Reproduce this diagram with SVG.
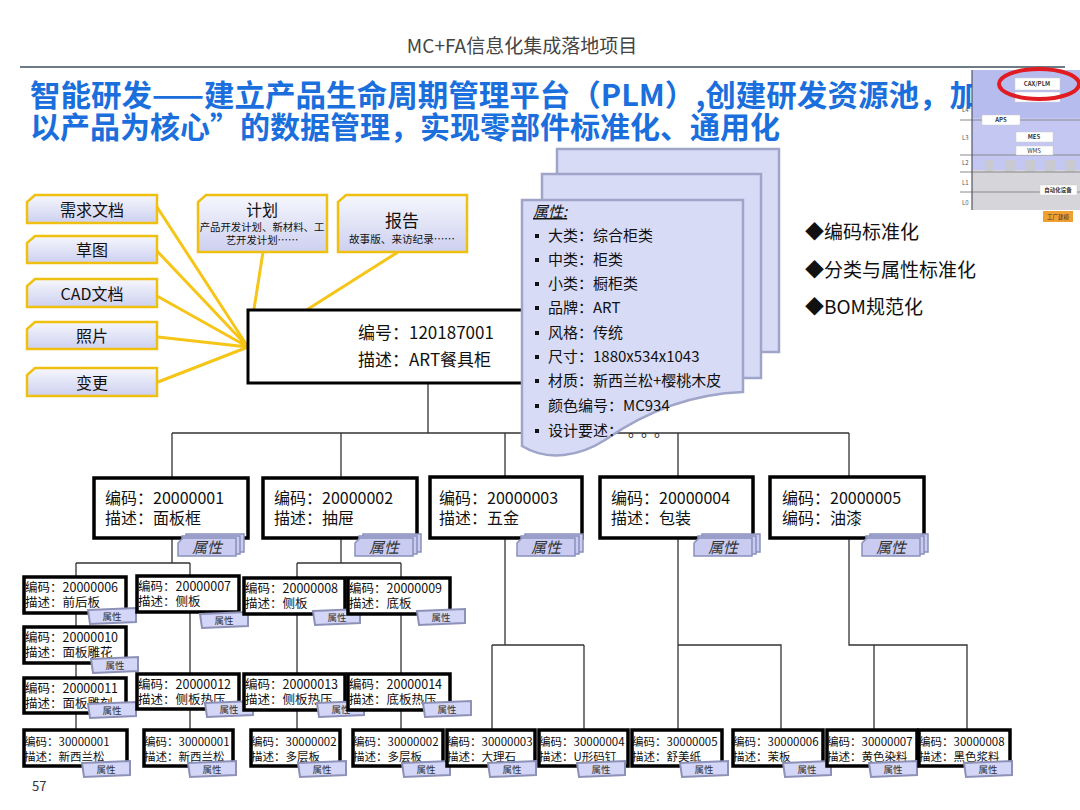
<svg xmlns="http://www.w3.org/2000/svg" width="1080" height="810" viewBox="0 0 1080 810">
<defs>
<linearGradient id="cg" x1="0" y1="0" x2="0" y2="1">
<stop offset="0" stop-color="#f6f7fd"/>
<stop offset="1" stop-color="#cdd0f0"/>
</linearGradient>
<style>
text{font-family:"Noto Sans CJK SC","Noto Sans",sans-serif;fill:#111}
.cl{fill:url(#cg);stroke:#f0c010;stroke-width:2.5}
.yl{stroke:#f5c518;stroke-width:3;fill:none}
.cn{stroke:#333;stroke-width:1.3;fill:none}
.bx{fill:#fff;stroke:#000;stroke-width:3.5}
.doc{fill:#d8dbf6;stroke:#9fa4c9;stroke-width:2.5}
.bg{fill:#c9ccf0;stroke:#8b90bd;stroke-width:1.5}
.sb{fill:#d3d6f6;stroke:#8d91b8;stroke-width:2}
.t2{font-size:16px}
.t3{font-size:12.5px}
.t4{font-size:11.5px}
.bt{font-size:15px;font-style:italic;fill:#333;text-anchor:middle}
.st{font-size:9.5px;fill:#333;text-anchor:middle}
.dt{font-size:15px}
.il{font-size:6px;fill:#555}
.ib{fill:#fff;stroke:#ccc;stroke-width:0.5}
.it{font-size:6px;font-weight:bold;text-anchor:middle;fill:#333}
</style>
</defs>
<rect width="1080" height="810" fill="#fff"/>

<!-- header -->
<text x="522" y="53" font-size="19" text-anchor="middle" style="fill:#444">MC+FA信息化集成落地项目</text>
<line x1="20" y1="67" x2="1065" y2="67" stroke="#6d7b84" stroke-width="2"/>
<text x="30" y="106" font-size="30" font-weight="bold" textLength="950" lengthAdjust="spacingAndGlyphs" style="fill:#1b6fdc">智能研发——建立产品生命周期管理平台（PLM）,创建研发资源池，加</text>
<text x="30" y="138" font-size="30" font-weight="bold" style="fill:#1b6fdc">以产品为核心”的数据管理，实现零部件标准化、通用化</text>

<!-- inset -->
<g id="inset">
<rect x="972" y="70" width="108" height="100" fill="#c3c7f2"/>
<rect x="972" y="70" width="108" height="48" fill="#b7bcef"/>
<rect x="972" y="170" width="108" height="40" fill="#d6d6da"/>
<rect x="985" y="160" width="8" height="12" fill="#c9c9d2"/>
<rect x="1005" y="160" width="10" height="12" fill="#c9c9d2"/>
<rect x="1025" y="160" width="10" height="12" fill="#c9c9d2"/>
<rect x="1045" y="160" width="10" height="12" fill="#c9c9d2"/>
<rect x="1065" y="160" width="10" height="12" fill="#c9c9d2"/>
<g stroke="#8a8a8a" stroke-width="1">
<line x1="960" y1="120" x2="1080" y2="120"/>
<line x1="960" y1="155" x2="1080" y2="155"/>
<line x1="960" y1="172" x2="1080" y2="172"/>
<line x1="960" y1="192" x2="1080" y2="192"/>
</g>
<line x1="972" y1="70" x2="972" y2="210" stroke="#556" stroke-width="1.2"/>
<text class="il" x="962" y="112">L4</text>
<text class="il" x="962" y="140">L3</text>
<text class="il" x="962" y="165">L2</text>
<text class="il" x="962" y="185">L1</text>
<text class="il" x="962" y="205">L0</text>
<rect class="ib" x="1015" y="92" width="45" height="10"/>
<rect class="ib" x="1015" y="78" width="45" height="12"/>
<text class="it" x="1037" y="86">CAX/PLM</text>
<rect class="ib" x="982" y="115" width="38" height="10"/>
<text class="it" x="1001" y="122">APS</text>
<rect class="ib" x="1016" y="132" width="37" height="10"/>
<text class="it" x="1034" y="139">MES</text>
<rect class="ib" x="1016" y="146" width="37" height="9"/>
<text class="it" x="1034" y="153" style="font-weight:normal">WMS</text>
<rect class="ib" x="1040" y="185" width="37" height="10"/>
<text class="it" x="1058" y="192" style="font-size:5.5px">自动化设备</text>
<rect x="1043" y="211" width="30" height="11" fill="#f0a030"/>
<text class="it" x="1058" y="219" style="font-size:5.5px;font-weight:normal">工厂建模</text>
<ellipse cx="1039" cy="84" rx="40" ry="15" fill="none" stroke="#e01b22" stroke-width="4"/>
</g>

<!-- connectors -->
<g id="connectors">
<path class="yl" d="M157 207 L248 347 M157 251 L248 347 M157 296 L248 347 M158 337 L248 347 M158 382 L248 347 M263 252 L248 347 M398 252 L248 347"/>
<path class="cn" d="M428 383 V433 M172 433 H849 M172 433 V478 M341 433 V478 M505 433 V477 M678 433 V477 M849 433 V477"/>
<path class="cn" d="M172 538 V563 M76 563 H190 M76 563 V730 M190 563 V730"/>
<path class="cn" d="M341 538 V563 M297 563 H401 M297 563 V730 M401 563 V730"/>
<path class="cn" d="M505 538 V645 M492 645 H584 M492 645 V730 M584 645 V730"/>
<path class="cn" d="M678 538 V730 M678 645 H781 V730"/>
<path class="cn" d="M849 538 V645 H967 V730 M874 645 V730"/>
</g>

<!-- callouts -->
<g id="c1"><path class="cl" d="M35 195 H157 V223 H27 V202 Z"/><text x="92" y="216" font-size="16" text-anchor="middle">需求文档</text></g>
<g id="c2"><path class="cl" d="M35 236 H157 V263 H27 V243 Z"/><text x="92" y="256" font-size="16" text-anchor="middle">草图</text></g>
<g id="c3"><path class="cl" d="M35 279 H157 V307 H27 V286 Z"/><text x="92" y="300" font-size="16" text-anchor="middle">CAD文档</text></g>
<g id="c4"><path class="cl" d="M35 322 H157 V349 H27 V329 Z"/><text x="92" y="342" font-size="16" text-anchor="middle">照片</text></g>
<g id="c5"><path class="cl" d="M35 368 H157 V396 H27 V375 Z"/><text x="92" y="389" font-size="16" text-anchor="middle">变更</text></g>
<g id="c6"><path class="cl" d="M206 195 H327 V252 H198 V202 Z"/>
<text x="262" y="216" font-size="16" text-anchor="middle">计划</text>
<text x="262" y="231" font-size="10.4" text-anchor="middle">产品开发计划、新材料、工</text>
<text x="262" y="244" font-size="10.4" text-anchor="middle">艺开发计划……</text></g>
<g id="c7"><path class="cl" d="M346 195 H467 V252 H338 V202 Z"/>
<text x="402" y="227" font-size="17" text-anchor="middle">报告</text>
<text x="402" y="243" font-size="10.6" text-anchor="middle">故事版、来访纪录……</text></g>

<!-- root -->
<g id="root">
<rect x="248" y="310" width="392" height="73" fill="#fff" stroke="#000" stroke-width="3"/>
<text x="358" y="339" font-size="17">编号：120187001</text>
<text x="358" y="366" font-size="17">描述：ART餐具柜</text>
</g>

<!-- property document -->
<g id="doc">
<rect class="doc" x="557" y="149" width="222" height="203"/>
<rect class="doc" x="542" y="174" width="219" height="204"/>
<path class="doc" d="M522 200 H743 V392 C690 394 645 412 605 440 C580 456 548 462 522 446 Z"/>
<text x="533" y="217" font-size="15" font-style="italic" text-decoration="underline">属性:</text>
<g fill="#111">
<rect x="535" y="234" width="4" height="4"/><rect x="535" y="258" width="4" height="4"/><rect x="535" y="282" width="4" height="4"/>
<rect x="535" y="306" width="4" height="4"/><rect x="535" y="331" width="4" height="4"/><rect x="535" y="355" width="4" height="4"/>
<rect x="535" y="379" width="4" height="4"/><rect x="535" y="404" width="4" height="4"/><rect x="535" y="429" width="4" height="4"/>
</g>
<text class="dt" x="548" y="241">大类：综合柜类</text>
<text class="dt" x="548" y="265">中类：柜类</text>
<text class="dt" x="548" y="289">小类：橱柜类</text>
<text class="dt" x="548" y="313">品牌：ART</text>
<text class="dt" x="548" y="338">风格：传统</text>
<text class="dt" x="548" y="362">尺寸：1880x534x1043</text>
<text class="dt" x="548" y="386">材质：新西兰松+樱桃木皮</text>
<text class="dt" x="548" y="411">颜色编号：MC934</text>
<text class="dt" x="548" y="436">设计要述：<tspan x="628">。</tspan><tspan x="641">。</tspan><tspan x="654">。</tspan></text>
</g>

<g id="bullets">
<text x="805" y="239" font-size="19">◆编码标准化</text>
<text x="805" y="277" font-size="19">◆分类与属性标准化</text>
<text x="805" y="314" font-size="19">◆BOM规范化</text>
</g>

<!-- level 2 -->
<g id="n20000001"><rect class="bx" x="94" y="478" width="154" height="60"/>
<text class="t2" x="105" y="504">编码：20000001</text><text class="t2" x="105" y="524">描述：面板框</text>
<g transform="translate(178,538)"><path class="bg" d="M8 -4 H66 V14 H8 Z"/><path class="bg" d="M4 -2 H62 V16 H4 Z"/><path class="bg" d="M0 5 L5 0 H58 V18 H0 Z"/><text class="bt" x="29" y="15">属性</text></g></g>
<g id="n20000002"><rect class="bx" x="263" y="478" width="154" height="60"/>
<text class="t2" x="274" y="504">编码：20000002</text><text class="t2" x="274" y="524">描述：抽屉</text>
<g transform="translate(355,538)"><path class="bg" d="M8 -4 H66 V14 H8 Z"/><path class="bg" d="M4 -2 H62 V16 H4 Z"/><path class="bg" d="M0 5 L5 0 H58 V18 H0 Z"/><text class="bt" x="29" y="15">属性</text></g></g>
<g id="n20000003"><rect class="bx" x="430" y="477" width="152" height="61"/>
<text class="t2" x="439" y="504">编码：20000003</text><text class="t2" x="439" y="524">描述：五金</text>
<g transform="translate(517,538)"><path class="bg" d="M8 -4 H66 V14 H8 Z"/><path class="bg" d="M4 -2 H62 V16 H4 Z"/><path class="bg" d="M0 5 L5 0 H58 V18 H0 Z"/><text class="bt" x="29" y="15">属性</text></g></g>
<g id="n20000004"><rect class="bx" x="600" y="477" width="153" height="61"/>
<text class="t2" x="611" y="504">编码：20000004</text><text class="t2" x="611" y="524">描述：包装</text>
<g transform="translate(694,538)"><path class="bg" d="M8 -4 H66 V14 H8 Z"/><path class="bg" d="M4 -2 H62 V16 H4 Z"/><path class="bg" d="M0 5 L5 0 H58 V18 H0 Z"/><text class="bt" x="29" y="15">属性</text></g></g>
<g id="n20000005"><rect class="bx" x="770" y="477" width="154" height="61"/>
<text class="t2" x="782" y="504">编码：20000005</text><text class="t2" x="782" y="524">编码：油漆</text>
<g transform="translate(862,538)"><path class="bg" d="M8 -4 H66 V14 H8 Z"/><path class="bg" d="M4 -2 H62 V16 H4 Z"/><path class="bg" d="M0 5 L5 0 H58 V18 H0 Z"/><text class="bt" x="29" y="15">属性</text></g></g>

<!-- level 3 -->
<g id="n20000006"><rect class="bx" x="24" y="577" width="102" height="36"/><text class="t3" x="25" y="592">编码：20000006</text><text class="t3" x="25" y="607">描述：前后板</text>
<path class="sb" d="M88 610 L136 608 V622 L90 624 Z"/><text class="st" x="112" y="620">属性</text></g>
<g id="n20000007"><rect class="bx" x="137" y="576" width="102" height="36"/><text class="t3" x="138" y="591">编码：20000007</text><text class="t3" x="138" y="606">描述：侧板</text>
<path class="sb" d="M200 614 L248 612 V626 L202 628 Z"/><text class="st" x="224" y="624">属性</text></g>
<g id="n20000008"><rect class="bx" x="244" y="578" width="101" height="36"/><text class="t3" x="245" y="593">编码：20000008</text><text class="t3" x="245" y="608">描述：侧板</text>
<path class="sb" d="M313 611 L360 609 V623 L315 625 Z"/><text class="st" x="337" y="621">属性</text></g>
<g id="n20000009"><rect class="bx" x="348" y="578" width="102" height="36"/><text class="t3" x="349" y="593">编码：20000009</text><text class="t3" x="349" y="608">描述：底板</text>
<path class="sb" d="M417 611 L465 609 V623 L419 625 Z"/><text class="st" x="441" y="621">属性</text></g>
<g id="n20000010"><rect class="bx" x="24" y="627" width="102" height="36"/><text class="t3" x="25" y="642">编码：20000010</text><text class="t3" x="25" y="657">描述：面板雕花</text>
<path class="sb" d="M91 659 L138 657 V671 L93 673 Z"/><text class="st" x="115" y="669">属性</text></g>
<g id="n20000011"><rect class="bx" x="24" y="678" width="102" height="35"/><text class="t3" x="25" y="693">编码：20000011</text><text class="t3" x="25" y="708">描述：面板雕刻</text>
<path class="sb" d="M88 704 L136 702 V716 L90 718 Z"/><text class="st" x="112" y="714">属性</text></g>
<g id="n20000012"><rect class="bx" x="137" y="674" width="102" height="35"/><text class="t3" x="138" y="689">编码：20000012</text><text class="t3" x="138" y="704">描述：侧板热压</text>
<path class="sb" d="M205 703 L253 701 V715 L207 717 Z"/><text class="st" x="229" y="713">属性</text></g>
<g id="n20000013"><rect class="bx" x="244" y="674" width="101" height="36"/><text class="t3" x="245" y="689">编码：20000013</text><text class="t3" x="245" y="704">描述：侧板热压</text>
<path class="sb" d="M317 703 L364 701 V715 L319 717 Z"/><text class="st" x="341" y="713">属性</text></g>
<g id="n20000014"><rect class="bx" x="348" y="674" width="102" height="36"/><text class="t3" x="349" y="689">编码：20000014</text><text class="t3" x="349" y="704">描述：底板热压</text>
<path class="sb" d="M423 703 L471 701 V715 L425 717 Z"/><text class="st" x="447" y="713">属性</text></g>

<!-- level 4 -->
<g id="m1"><rect class="bx" x="24" y="730" width="103" height="36"/><text class="t4" x="24" y="746">编码：30000001</text><text class="t4" x="24" y="761">描述：新西兰松</text>
<path class="sb" d="M82 763 L130 761 V775 L84 777 Z"/><text class="st" x="106" y="773">属性</text></g>
<g id="m2"><rect class="bx" x="144" y="730" width="89" height="36"/><text class="t4" x="144" y="746">编码：30000001</text><text class="t4" x="144" y="761">描述：新西兰松</text>
<path class="sb" d="M188 763 L236 761 V775 L190 777 Z"/><text class="st" x="212" y="773">属性</text></g>
<g id="m3"><rect class="bx" x="251" y="730" width="89" height="36"/><text class="t4" x="251" y="746">编码：30000002</text><text class="t4" x="251" y="761">描述：多层板</text>
<path class="sb" d="M298 763 L346 761 V775 L300 777 Z"/><text class="st" x="322" y="773">属性</text></g>
<g id="m4"><rect class="bx" x="353" y="730" width="90" height="36"/><text class="t4" x="353" y="746">编码：30000002</text><text class="t4" x="353" y="761">描述：多层板</text>
<path class="sb" d="M402 763 L450 761 V775 L404 777 Z"/><text class="st" x="426" y="773">属性</text></g>
<g id="m5"><rect class="bx" x="447" y="730" width="88" height="36"/><text class="t4" x="447" y="746">编码：30000003</text><text class="t4" x="447" y="761">描述：大理石</text>
<path class="sb" d="M488 763 L536 761 V775 L490 777 Z"/><text class="st" x="512" y="773">属性</text></g>
<g id="m6"><rect class="bx" x="539" y="730" width="89" height="36"/><text class="t4" x="539" y="746">编码：30000004</text><text class="t4" x="539" y="761">描述：U形码钉</text>
<path class="sb" d="M577 763 L625 761 V775 L579 777 Z"/><text class="st" x="601" y="773">属性</text></g>
<g id="m7"><rect class="bx" x="632" y="730" width="90" height="36"/><text class="t4" x="632" y="746">编码：30000005</text><text class="t4" x="632" y="761">描述：舒美纸</text>
<path class="sb" d="M680 763 L728 761 V775 L682 777 Z"/><text class="st" x="704" y="773">属性</text></g>
<g id="m8"><rect class="bx" x="733" y="730" width="90" height="36"/><text class="t4" x="733" y="746">编码：30000006</text><text class="t4" x="733" y="761">描述：茉板</text>
<path class="sb" d="M783 763 L831 761 V775 L785 777 Z"/><text class="st" x="807" y="773">属性</text></g>
<g id="m9"><rect class="bx" x="827" y="730" width="90" height="36"/><text class="t4" x="827" y="746">编码：30000007</text><text class="t4" x="827" y="761">描述：黄色染料</text>
<path class="sb" d="M869 763 L917 761 V775 L871 777 Z"/><text class="st" x="893" y="773">属性</text></g>
<g id="m10"><rect class="bx" x="919" y="730" width="91" height="36"/><text class="t4" x="919" y="746">编码：30000008</text><text class="t4" x="919" y="761">描述：黑色浆料</text>
<path class="sb" d="M964 763 L1012 761 V775 L966 777 Z"/><text class="st" x="988" y="773">属性</text></g>

<text x="32" y="791" font-size="13" style="fill:#333">57</text>
</svg>
